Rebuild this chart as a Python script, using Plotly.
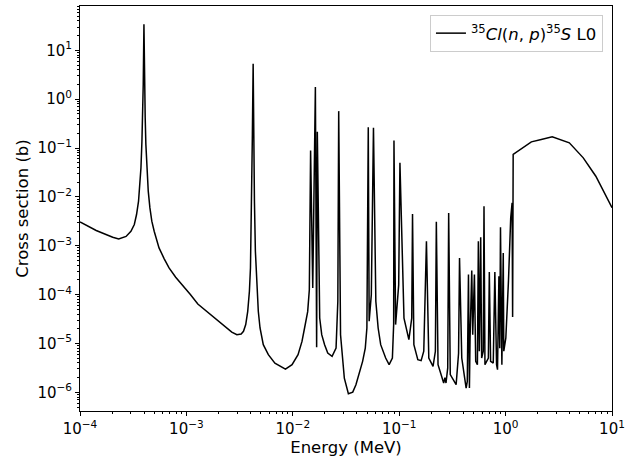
import plotly.graph_objects as go

# Energy (MeV) and cross section (b)
energy_mev = [
    1.00e-4, 1.42e-4, 2.03e-4, 2.31e-4, 2.71e-4, 3.01e-4, 3.24e-4, 3.40e-4, 3.55e-4, 3.66e-4,
    3.74e-4, 3.82e-4, 3.87e-4, 3.93e-4, 3.99e-4, 4.04e-4, 4.10e-4, 4.16e-4, 4.26e-4, 4.38e-4,
    4.54e-4, 4.73e-4, 4.98e-4, 5.53e-4, 6.17e-4, 6.87e-4, 7.93e-4, 9.14e-4, 1.09e-3, 1.28e-3,
    1.87e-3, 2.32e-3, 2.67e-3, 2.98e-3, 3.27e-3, 3.44e-3, 3.61e-3, 3.77e-3, 3.91e-3, 4.00e-3,
    4.11e-3, 4.17e-3, 4.24e-3, 4.29e-3, 4.36e-3, 4.45e-3, 4.57e-3, 4.74e-3, 4.92e-3, 5.28e-3,
    5.89e-3, 6.79e-3, 8.53e-3, 9.84e-3, 1.12e-2, 1.22e-2, 1.29e-2, 1.38e-2, 1.43e-2, 1.47e-2,
    1.54e-2, 1.63e-2, 1.675e-2, 1.70e-2, 1.79e-2, 1.87e-2, 1.99e-2, 2.13e-2, 2.34e-2, 2.55e-2,
    2.65e-2, 2.70e-2, 2.81e-2, 2.90e-2, 3.05e-2, 3.33e-2, 3.66e-2, 3.92e-2, 4.53e-2, 4.80e-2,
    4.97e-2, 5.12e-2, 5.22e-2, 5.47e-2, 5.73e-2, 6.03e-2, 6.34e-2, 6.70e-2, 7.46e-2, 8.04e-2,
    8.63e-2, 8.87e-2, 8.93e-2, 9.25e-2, 9.89e-2, 0.1016, 0.1109, 0.1233, 0.1312, 0.1334,
    0.1374, 0.1496, 0.1607, 0.1702, 0.1803, 0.1897, 0.208, 0.2188, 0.2234, 0.2317,
    0.2523, 0.2618, 0.2692, 0.2754, 0.2858, 0.2917, 0.302, 0.3428, 0.3614, 0.369,
    0.3873, 0.4159, 0.4256, 0.4365, 0.4477, 0.4571, 0.4634, 0.4808, 0.4909, 0.5093,
    0.5236, 0.5433, 0.5546, 0.5662, 0.5834, 0.5957, 0.6166, 0.6266, 0.6397, 0.6887,
    0.7031, 0.7228, 0.7656, 0.7925, 0.8222, 0.8395, 0.865, 0.881, 0.8954, 0.9226,
    0.9506, 0.9616, 1.005, 1.064, 1.117, 1.151, 1.164, 1.178, 1.746, 2.163,
    2.742, 3.972, 5.370, 7.047, 10.0,
]
cross_section_b = [
    3.08e-3, 2.05e-3, 1.49e-3, 1.38e-3, 1.55e-3, 1.98e-3, 2.72e-3, 4.36e-3, 8.17e-3, 1.80e-2,
    3.93e-2, 0.138, 0.416, 2.01, 34.1, 2.01, 0.416, 0.119, 3.93e-2, 1.31e-2,
    5.96e-3, 3.18e-3, 1.98e-3, 9.02e-4, 5.47e-4, 3.51e-4, 2.26e-4, 1.60e-4, 1.00e-4, 6.41e-5,
    3.31e-5, 2.24e-5, 1.71e-5, 1.51e-5, 1.56e-5, 1.77e-5, 2.43e-5, 4.55e-5, 1.17e-4, 3.51e-4,
    8.17e-3, 0.190, 5.31, 0.190, 8.17e-3, 7.71e-4, 1.60e-4, 4.55e-5, 2.07e-5, 9.44e-6,
    5.89e-6, 3.96e-6, 2.99e-6, 3.68e-6, 5.89e-6, 1.10e-5, 2.07e-5, 4.47e-5, 1.26e-4, 8.93e-2,
    1.36e-4, 1.77, 8.32e-6, 0.215, 3.31e-5, 1.51e-5, 9.44e-6, 6.35e-6, 5.45e-6, 8.05e-6,
    7.30e-5, 0.570, 1.51e-5, 5.89e-6, 1.95e-6, 9.35e-7, 1.01e-6, 1.43e-6, 4.30e-6, 8.05e-6,
    2.07e-5, 0.268, 2.84e-5, 1.00e-4, 0.259, 7.30e-5, 2.07e-5, 9.44e-6, 5.02e-6, 3.68e-6,
    5.02e-6, 2.43e-5, 0.143, 2.43e-5, 1.58e-4, 4.98e-2, 3.31e-5, 1.20e-5, 3.31e-5, 4.49e-3,
    9.44e-6, 4.66e-6, 4.45e-6, 6.92e-6, 1.24e-3, 5.02e-6, 3.40e-6, 6.92e-6, 3.08e-3, 3.68e-6,
    2.12e-6, 1.55e-6, 2.00e-6, 1.55e-6, 3.16e-6, 4.70e-3, 2.30e-6, 1.43e-6, 6.31e-6, 5.62e-4,
    5.02e-6, 1.67e-6, 1.22e-6, 1.67e-6, 2.57e-4, 1.22e-6, 1.26e-5, 3.10e-4, 1.51e-5, 2.57e-4,
    4.30e-6, 3.68e-6, 1.24e-3, 6.92e-6, 1.49e-3, 5.02e-6, 6.92e-6, 6.44e-3, 3.68e-6, 5.02e-6,
    2.90e-4, 4.30e-6, 3.98e-6, 2.90e-4, 3.68e-6, 2.90e-6, 2.37e-4, 7.94e-6, 2.39e-3, 3.68e-6,
    7.11e-4, 6.92e-6, 1.29e-5, 1.91e-4, 3.72e-3, 7.53e-3, 3.48e-5, 7.40e-2, 0.134, 0.150,
    0.170, 0.128, 6.30e-2, 2.65e-2, 6.03e-3,
]
assert len(energy_mev) == len(cross_section_b)

series_name = "<sup>35</sup><i>Cl</i>(<i>n</i>, <i>p</i>)<sup>35</sup><i>S</i> L0"

x_tick_vals = [1e-4, 1e-3, 1e-2, 1e-1, 1e0, 1e1]
x_tick_text = ["10<sup>\u22124</sup>", "10<sup>\u22123</sup>", "10<sup>\u22122</sup>",
               "10<sup>\u22121</sup>", "10<sup>0</sup>", "10<sup>1</sup>"]
y_tick_vals = [1e-6, 1e-5, 1e-4, 1e-3, 1e-2, 1e-1, 1e0, 1e1]
y_tick_text = ["10<sup>\u22126</sup>", "10<sup>\u22125</sup>", "10<sup>\u22124</sup>",
               "10<sup>\u22123</sup>", "10<sup>\u22122</sup>", "10<sup>\u22121</sup>",
               "10<sup>0</sup>", "10<sup>1</sup>"]

fig = go.Figure()
fig.add_trace(go.Scatter(
    x=energy_mev, y=cross_section_b, mode="lines", name=series_name,
    line=dict(color="black", width=1.5), showlegend=True,
))

axis_common = dict(
    type="log", showgrid=False, zeroline=False,
    showline=True, linecolor="black", linewidth=1, mirror=True,
    ticks="outside", ticklen=4, tickwidth=1, tickcolor="black",
    tickfont=dict(family="DejaVu Sans", size=15, color="black"),
    minor=dict(ticks="outside", ticklen=2, tickwidth=0.8, tickcolor="black",
               dtick="D1", showgrid=False),
)

fig.update_layout(
    width=630, height=464,
    margin=dict(l=80, r=14, t=5, b=53),
    paper_bgcolor="white", plot_bgcolor="white",
    font=dict(family="DejaVu Sans", size=16, color="black"),
    xaxis=dict(axis_common, range=[-4, 1], tickvals=x_tick_vals, ticktext=x_tick_text,
               title=dict(text="Energy (MeV)", standoff=4,
                          font=dict(family="DejaVu Sans", size=16.5))),
    yaxis=dict(axis_common, range=[-6.383, 1.908], tickvals=y_tick_vals, ticktext=y_tick_text,
               title=dict(text="Cross section (b)", standoff=4,
                          font=dict(family="DejaVu Sans", size=16.5))),
    legend=dict(x=0.983, y=0.978, xanchor="right", yanchor="top",
                bgcolor="rgba(255,255,255,0.8)", bordercolor="#cccccc", borderwidth=1,
                font=dict(family="DejaVu Sans", size=16.5), itemwidth=30),
    showlegend=True,
)

fig.write_html("out.html", config={"displayModeBar": False},
               post_script="document.body.style.margin='0';")
